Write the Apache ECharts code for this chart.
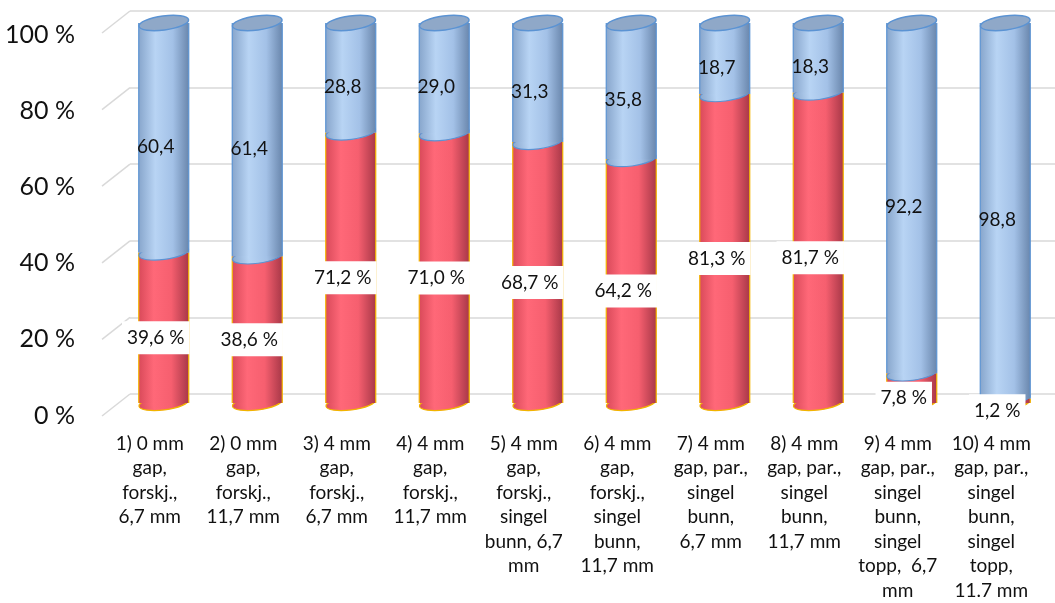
<!DOCTYPE html>
<html>
<head>
<meta charset="utf-8">
<script src="https://cdn.jsdelivr.net/npm/echarts@6/dist/echarts.min.js"></script>
<style>html,body{margin:0;padding:0;background:#fff}#c{width:1055px;height:603px}</style>
</head>
<body>
<div id="c"></div>
<script>
var categories = [
  "1) 0 mm\ngap,\nforskj.,\n6,7 mm",
  "2) 0 mm\ngap,\nforskj.,\n11,7 mm",
  "3) 4 mm\ngap,\nforskj.,\n6,7 mm",
  "4) 4 mm\ngap,\nforskj.,\n11,7 mm",
  "5) 4 mm\ngap,\nforskj.,\nsingel\nbunn, 6,7\nmm",
  "6) 4 mm\ngap,\nforskj.,\nsingel\nbunn,\n11,7 mm",
  "7) 4 mm\ngap, par.,\nsingel\nbunn,\n6,7 mm",
  "8) 4 mm\ngap, par.,\nsingel\nbunn,\n11,7 mm",
  "9) 4 mm\ngap, par.,\nsingel\nbunn,\nsingel\ntopp,  6,7\nmm",
  "10) 4 mm\ngap, par.,\nsingel\nbunn,\nsingel\ntopp,\n11.7 mm"
];
var redValues  = [39.6, 38.6, 71.2, 71.0, 68.7, 64.2, 81.3, 81.7, 7.8, 1.2];
var blueValues = [60.4, 61.4, 28.8, 29.0, 31.3, 35.8, 18.7, 18.3, 92.2, 98.8];
var yTicks = [0, 20, 40, 60, 80, 100];

var FONT = 'Lato';
function fmt(v){ return v.toFixed(1).replace('.', ','); }

var redSet = {
  stops: [{offset:0,color:'#d94a5a'},{offset:0.3,color:'#ff6878'},{offset:0.65,color:'#f65f6f'},{offset:1,color:'#a83848'}],
  edge: '#f2b400', cap: null
};
var blueSet = {
  stops: [{offset:0,color:'#88a6cc'},{offset:0.33,color:'#b8d4f4'},{offset:0.68,color:'#a3c1e7'},{offset:1,color:'#6a87ad'}],
  edge: '#5b93d3', cap: '#8fa8c8'
};

function cylinder(set, isRed){
  return function(params, api){
    var idx = api.value(0), low = api.value(1), high = api.value(2), v = api.value(3);
    var pL = api.coord([idx, low]), pH = api.coord([idx, high]);
    var rx = 25, ry = 7, rot = 0.13;
    var cx = pL[0], x0 = cx - rx;
    var grad = new echarts.graphic.LinearGradient(0,0,1,0, set.stops);
    var ch = [];
    ch.push({type:'ellipse', shape:{cx:cx, cy:pL[1], rx:rx, ry:ry}, rotation:rot, originX:cx, originY:pL[1],
      style:{fill:grad, stroke:set.edge, lineWidth:1.2}});
    ch.push({type:'rect', shape:{x:x0, y:pH[1], width:2*rx, height:pL[1]-pH[1]}, style:{fill:grad}});
    ch.push({type:'line', shape:{x1:x0, y1:pH[1], x2:x0, y2:pL[1]}, style:{stroke:set.edge, lineWidth:1.2}});
    ch.push({type:'line', shape:{x1:x0+2*rx, y1:pH[1], x2:x0+2*rx, y2:pL[1]}, style:{stroke:set.edge, lineWidth:1.2}});
    if (set.cap) {
      ch.push({type:'ellipse', shape:{cx:cx, cy:pH[1], rx:rx, ry:ry}, rotation:rot, originX:cx, originY:pH[1],
        style:{fill:set.cap, stroke:set.edge, lineWidth:1.5}});
    }
    var ly = (pL[1] + pH[1]) / 2 + (isRed ? 10 : 9);
    var txt = isRed ? fmt(v) + ' %' : fmt(v);
    var st = {text:txt, x:cx - 8, y:ly, fill:'#111', font:'19px ' + FONT,
      align:'center', verticalAlign:'middle', textAlign:'center', textVerticalAlign:'middle'};
    if (isRed) { st.backgroundColor = '#ffffff'; st.padding = [7, 5]; }
    ch.push({type:'text', z2:100, style:st});
    return {type:'group', children:ch};
  };
}

var redData = redValues.map(function(v,i){ return [i, 0, v, v]; });
var blueData = blueValues.map(function(v,i){ return [i, redValues[i], redValues[i] + v, v]; });

var chart = echarts.init(document.getElementById('c'), null, {renderer:'canvas'});
chart.setOption({
  animation:false,
  backgroundColor:'#ffffff',
  grid:[
    {left:103, right:17, top:35, height:382},
    {left:130, right:0, top:11, height:383},
    {left:117, right:3, top:23, height:380}
  ],
  xAxis:[
    {gridIndex:0, type:'category', data:categories, axisLine:{show:false}, axisTick:{show:false},
      axisLabel:{margin:16, fontFamily:FONT, fontSize:19, lineHeight:24.5, color:'#111', interval:0, align:'center', verticalAlign:'top'}},
    {gridIndex:1, type:'value', min:0, max:1, show:false},
    {gridIndex:2, type:'category', data:categories, show:false}
  ],
  yAxis:[
    {gridIndex:0, type:'value', min:0, max:100, interval:20, axisLine:{show:false}, axisTick:{show:false}, splitLine:{show:false},
      axisLabel:{formatter:'{value} %', margin:28, fontFamily:FONT, fontSize:25, color:'#111'}},
    {gridIndex:1, type:'value', min:0, max:100, interval:20, axisLine:{show:false}, axisTick:{show:false}, axisLabel:{show:false},
      splitLine:{lineStyle:{color:'#d9d9d9', width:1.5}}},
    {gridIndex:2, type:'value', min:0, max:100, show:false}
  ],
  series:[
    {type:'custom', xAxisIndex:1, yAxisIndex:1, data:yTicks.map(function(t){return [0,t];}),
      renderItem:function(params, api){
        var p = api.coord([0, api.value(1)]);
        var x = params.coordSys.x;
        return {type:'line', shape:{x1:x-28, y1:p[1]+22, x2:x, y2:p[1]}, style:{stroke:'#d9d9d9', lineWidth:1.5}};
      }, silent:true},
    {type:'custom', xAxisIndex:2, yAxisIndex:2, data:redData, renderItem:cylinder(redSet, true)},
    {type:'custom', xAxisIndex:2, yAxisIndex:2, data:blueData, renderItem:cylinder(blueSet, false)}
  ]
});
</script>
</body>
</html>
